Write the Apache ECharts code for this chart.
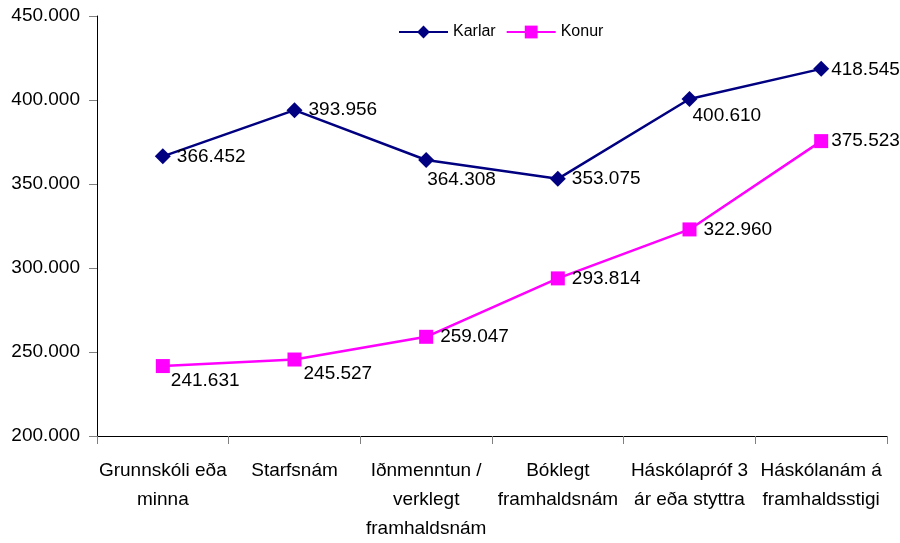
<!DOCTYPE html>
<html>
<head>
<meta charset="utf-8">
<script src="https://cdn.jsdelivr.net/npm/echarts@6/dist/echarts.min.js"></script>
<style>html,body{margin:0;padding:0;background:#fff}#c{width:900px;height:543px}</style>
</head>
<body>
<div id="c"></div>
<script>
const categories = ["Grunnskóli eða\nminna", "Starfsnám", "Iðnmenntun /\nverklegt\nframhaldsnám", "Bóklegt\nframhaldsnám", "Háskólapróf 3\nár eða styttra", "Háskólanám á\nframhaldsstigi"];
const karlar = [366452, 393956, 364308, 353075, 400610, 418545];
const konur = [241631, 245527, 259047, 293814, 322960, 375523];
const yTicks = [200000, 250000, 300000, 350000, 400000, 450000];

const FONT = "'Liberation Sans', Arial, sans-serif";
const FS = 19;
function fmt(v){ return String(v).replace(/\B(?=(\d{3})+(?!\d))/g, '.'); }

// label offsets for labels placed below-right (or nudged)
const karlarOffsets = {2: [-13, 20], 4: [-11, 17], 5: [-4, 1]};
const konurOffsets = {0: [-6, 15], 1: [-5, 14], 5: [-4, 0]};

function mkData(vals, offs){
  return vals.map((v, i) => offs[i] ? {value: v, label: {offset: offs[i]}} : v);
}

const chart = echarts.init(document.getElementById('c'), null, {renderer: 'canvas'});
chart.setOption({
  animation: false,
  backgroundColor: '#ffffff',
  grid: {left: 97, right: 13, top: 16, bottom: 107, containLabel: false, outerBoundsMode: 'none'},
  legend: {
    left: 398, top: 24, padding: 0,
    itemWidth: 49, itemHeight: 16, itemGap: 10,
    textStyle: {fontFamily: FONT, fontSize: 16, color: '#000'},
    data: ['Karlar', 'Konur']
  },
  xAxis: {
    type: 'category',
    data: categories,
    boundaryGap: true,
    axisLine: {lineStyle: {color: '#000', width: 1}},
    axisTick: {show: true, length: 8, lineStyle: {color: '#808080'}},
    axisLabel: {color: '#000', fontFamily: FONT, fontSize: FS, lineHeight: 29, margin: 20, interval: 0}
  },
  yAxis: {
    type: 'value',
    min: yTicks[0], max: yTicks[yTicks.length - 1], interval: 50000,
    axisLine: {show: true, lineStyle: {color: '#000', width: 1}},
    axisTick: {show: true, length: 8, lineStyle: {color: '#808080'}},
    splitLine: {show: false},
    axisLabel: {color: '#000', fontFamily: FONT, fontSize: FS, margin: 17, formatter: fmt}
  },
  series: [
    {
      name: 'Karlar', type: 'line',
      data: mkData(karlar, karlarOffsets),
      symbol: 'diamond', symbolSize: 16,
      lineStyle: {color: '#000080', width: 2.5},
      itemStyle: {color: '#000080'},
      label: {show: true, position: 'right', distance: 6, color: '#000', fontFamily: FONT, fontSize: FS,
        formatter: p => fmt(p.value)}
    },
    {
      name: 'Konur', type: 'line',
      data: mkData(konur, konurOffsets),
      symbol: 'rect', symbolSize: 14,
      lineStyle: {color: '#FF00FF', width: 2.5},
      itemStyle: {color: '#FF00FF'},
      label: {show: true, position: 'right', distance: 7, color: '#000', fontFamily: FONT, fontSize: FS,
        formatter: p => fmt(p.value)}
    }
  ]
});
</script>
</body>
</html>
